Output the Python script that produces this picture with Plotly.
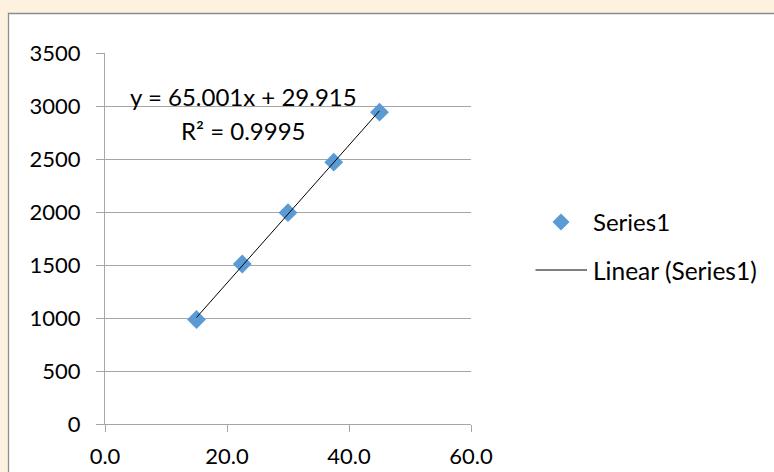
import plotly.graph_objects as go

# ---- data ----
x_values = [15.0, 22.5, 30.0, 37.5, 45.0]
y_values = [986, 1509, 1994, 2470, 2942]
series_name = "Series1"
trend_name = "Linear (Series1)"
trend_slope = 65.001
trend_intercept = 29.915
trend_x = [min(x_values), max(x_values)]
equation_text = "y = 65.001x + 29.915"
r2_text = "R² = 0.9995"
x_tick_values = [0, 20, 40, 60]
x_tick_labels = ["0.0", "20.0", "40.0", "60.0"]
y_tick_values = [0, 500, 1000, 1500, 2000, 2500, 3000, 3500]
y_tick_labels = ["0", "500", "1000", "1500", "2000", "2500", "3000", "3500"]

trend_y = [trend_slope * v + trend_intercept for v in trend_x]

W, H = 774, 472
L, R, T, B = 105, 303, 53, 48
PW, PH = W - L - R, H - T - B

def px(xp):
    return (xp - L) / PW

def py(yp):
    return (H - B - yp) / PH

FONT = "Lato, 'Open Sans', sans-serif"
BLUE = "#5B9BD5"
GRID = "#A6A6A6"

fig = go.Figure()
fig.add_trace(go.Scatter(
    x=x_values, y=y_values, mode="markers", name=series_name,
    marker=dict(symbol="diamond", size=14.5, color=BLUE, line=dict(width=0)),
    showlegend=False, cliponaxis=False,
))
fig.add_trace(go.Scatter(
    x=trend_x, y=trend_y, mode="lines", name=trend_name,
    line=dict(color="black", width=1), showlegend=False,
))

shapes = [
    dict(type="rect", xref="paper", yref="paper", x0=px(8.5), y0=py(13.5), x1=px(W + 40), y1=py(H + 40),
         fillcolor="white", line=dict(color="#8C8C8C", width=1.3), layer="below"),
    dict(type="path", xref="paper", yref="paper", xsizemode="pixel", ysizemode="pixel",
         xanchor=px(561), yanchor=py(222), path="M0,8.5 L8.5,0 L0,-8.5 L-8.5,0 Z",
         fillcolor=BLUE, line=dict(width=0)),
    dict(type="line", xref="paper", yref="paper", x0=px(535.5), x1=px(587), y0=py(270), y1=py(270),
         line=dict(color="black", width=1)),
]

annotations = [
    dict(text=equation_text, x=px(243), y=py(97), xref="paper", yref="paper", showarrow=False,
         xanchor="center", yanchor="middle", font=dict(family=FONT, size=24, color="black")),
    dict(text=r2_text, x=px(243.5), y=py(130), xref="paper", yref="paper", showarrow=False,
         xanchor="center", yanchor="middle", font=dict(family=FONT, size=24, color="black")),
    dict(text=series_name, x=px(591), y=py(222), xref="paper", yref="paper", showarrow=False,
         xanchor="left", yanchor="middle", font=dict(family=FONT, size=24, color="black")),
    dict(text=trend_name, x=px(591), y=py(270), xref="paper", yref="paper", showarrow=False,
         xanchor="left", yanchor="middle", font=dict(family=FONT, size=24.5, color="black")),
]

fig.update_layout(
    width=W, height=H,
    margin=dict(l=L, r=R, t=T, b=B, pad=0, autoexpand=False),
    paper_bgcolor="#FCF2DF",
    plot_bgcolor="rgba(0,0,0,0)",
    showlegend=False,
    shapes=shapes,
    annotations=annotations,
    xaxis=dict(range=[0, 60], tickvals=x_tick_values, ticktext=x_tick_labels,
               showgrid=False, zeroline=False, showline=True, linecolor=GRID, linewidth=1,
               ticks="outside", ticklen=7, tickcolor=GRID, tickwidth=1,
               ticklabelstandoff=6, automargin=False,
               tickfont=dict(family=FONT, size=22, color="black")),
    yaxis=dict(range=[0, 3500], tickvals=y_tick_values, ticktext=y_tick_labels,
               showgrid=True, gridcolor=GRID, gridwidth=1, zeroline=False,
               showline=True, linecolor=GRID, linewidth=1,
               ticks="outside", ticklen=8, tickcolor=GRID, tickwidth=1,
               ticklabelstandoff=11, automargin=False,
               tickfont=dict(family=FONT, size=22, color="black")),
)

fig.write_html("out.html", config={"displayModeBar": False},
               post_script="document.body.style.margin='0';")
